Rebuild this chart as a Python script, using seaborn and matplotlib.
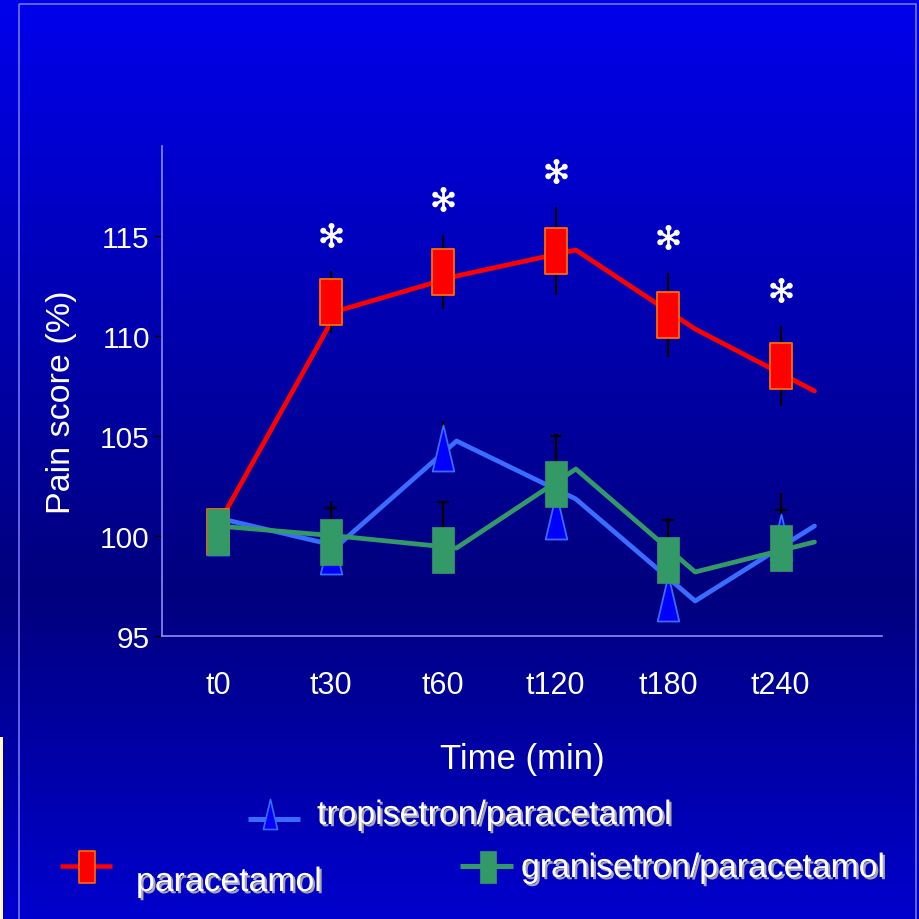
import numpy as np
import pandas as pd
import matplotlib
matplotlib.use("Agg")
import matplotlib.pyplot as plt
import matplotlib.patheffects as pe
from matplotlib.path import Path
from matplotlib.patches import Rectangle
from matplotlib.transforms import Affine2D
import seaborn as sns

# ---------------------------------------------------------------- data
times = ["t0", "t30", "t60", "t120", "t180", "t240"]
groups = ["tropisetron/paracetamol", "granisetron/paracetamol", "paracetamol"]

# group means (pain score, % of baseline) and SD
paracetamol_mean = [100.2, 111.7, 113.2, 114.25, 111.05, 108.5]
paracetamol_sd = [1.0, 1.55, 1.85, 2.2, 2.1, 2.0]
tropisetron_mean = [100.2, 99.25, 104.4, 101.0, 96.9, 99.95]
tropisetron_sd = [1.0, 2.5, 1.35, 4.1, 2.0, 2.2]
granisetron_mean = [100.2, 99.7, 99.3, 102.6, 98.8, 99.4]
granisetron_sd = [1.0, 1.7, 2.4, 2.4, 2.0, 1.9]

# connecting trend lines (drawn on their own layer)
paracetamol_trend = [100.55, 111.25, 113.0, 114.3, 110.35, 107.25]
tropisetron_trend = [100.9, 99.5, 104.75, 101.85, 96.75, 100.5]
granisetron_trend = [100.5, 100.0, 99.4, 103.35, 98.2, 99.7]

# time points marked as significant vs. the combination groups
significant = [False, True, True, True, True, True]

y_ticks = [95, 100, 105, 110, 115]

# ---------------------------------------------------------------- style
RED, RED_EDGE = "#ff0000", "#ff6a00"
BLUE_LINE, BLUE_FILL = "#3a6cff", "#0000ff"
GREEN = "#339966"
SPINE = "#8c8cf0"

sns.set_theme(style="white")
plt.rcParams["font.family"] = ["Liberation Sans", "DejaVu Sans"]

W, H = 919, 920
PX = 72 / 100  # points per pixel at dpi 100
fig = plt.figure(figsize=(W / 100, H / 100), dpi=100)
fig.patch.set_facecolor("#00008a")

# slide background: vertical blue gradient, darkest just below the middle
bg = fig.add_axes([0, 0, 1, 1], zorder=-10)
rows = np.arange(H)
blue = np.interp(rows, [0, 590, H], [236, 126, 206]) / 255.0
img = np.zeros((H, 1, 3))
img[:, 0, 2] = blue
bg.imshow(img, aspect="auto", extent=[0, W, H, 0], interpolation="bilinear")
bg.set_xlim(0, W)
bg.set_ylim(H, 0)
bg.axis("off")
bg.add_patch(Rectangle((19, 5), 897, 940, fill=False, ec="#7474f4", lw=1.2))
bg.add_patch(Rectangle((0, 738), 3, 200, fc="#fff8cc", ec="none"))

rect = [162 / W, (H - 637) / H, 720 / W, 490 / H]
line_ax = fig.add_axes(rect, zorder=1)
ax = fig.add_axes(rect, zorder=2)
for a in (line_ax, ax):
    a.set_facecolor("none")
    a.set_ylim(95, 119.5)

pos = np.arange(len(times))

# ---------------------------------------------------------------- trend lines
trend = pd.DataFrame({
    "pos": np.tile(pos, 3),
    "score": tropisetron_trend + granisetron_trend + paracetamol_trend,
    "group": np.repeat(groups, len(times)),
})
sns.lineplot(data=trend, x="pos", y="score", hue="group", hue_order=groups,
             palette={groups[0]: BLUE_LINE, groups[1]: GREEN, groups[2]: RED},
             sort=False, estimator=None, legend=False, linewidth=3.4,
             ax=line_ax)
line_ax.set_xlim(-0.469, 5.566)
line_ax.axis("off")

# ---------------------------------------------------------------- error bars
zeros = np.zeros(len(times))
ax.errorbar(pos, paracetamol_mean, yerr=paracetamol_sd, fmt="none",
            ecolor="black", elinewidth=1.6, capsize=0, zorder=2)
ax.errorbar(pos, tropisetron_mean, yerr=[zeros, tropisetron_sd], fmt="none",
            ecolor="black", elinewidth=1.6, capsize=0, zorder=2)
ax.errorbar(pos, granisetron_mean, yerr=[zeros, granisetron_sd], fmt="none",
            ecolor="black", elinewidth=1.6, capsize=4.5, capthick=1.6, zorder=2)

# ---------------------------------------------------------------- markers
box = Path([(-0.25, -0.5), (0.25, -0.5), (0.25, 0.5), (-0.25, 0.5), (-0.25, -0.5)],
           closed=True)
tri = Path([(-0.235, -0.5), (0.235, -0.5), (0.0, 0.5), (-0.235, -0.5)], closed=True)


def asterisk_path(arm=0.38, bulb=0.12, half_w=0.055):
    """Six-armed asterisk with rounded tips."""
    parts = []
    bar = Path([(-half_w, -arm), (half_w, -arm), (half_w, arm), (-half_w, arm),
                (-half_w, -arm)], closed=True)
    for ang in (0, 60, 120):
        parts.append(bar.transformed(Affine2D().rotate_deg(ang)))
    for k in range(6):
        a = np.deg2rad(90 + 60 * k)
        parts.append(Path.circle((arm * np.cos(a), arm * np.sin(a)), bulb))
    return Path.make_compound_path(*parts)


star = asterisk_path()
size = (46 * PX) ** 2

sns.scatterplot(x=pos, y=paracetamol_mean, marker=box, s=size, color=RED,
                edgecolor=RED_EDGE, linewidth=1.3, ax=ax, zorder=3)
sns.scatterplot(x=pos, y=tropisetron_mean, marker=tri, s=size, color=BLUE_FILL,
                edgecolor=BLUE_LINE, linewidth=1.3, ax=ax, zorder=4)
sns.scatterplot(x=pos, y=granisetron_mean, marker=box, s=size, color=GREEN,
                edgecolor=GREEN, linewidth=0.5, ax=ax, zorder=5)

# significance asterisks above the paracetamol error bars
sig = np.array(significant)
star_y = (np.array(paracetamol_mean) + np.array(paracetamol_sd))[sig] + 1.8
sns.scatterplot(x=pos[sig], y=star_y, marker=star, s=(25 * PX) ** 2,
                color="white", edgecolor="white", linewidth=0, ax=ax, zorder=6)

# ---------------------------------------------------------------- axes
ax.set_xlim(-0.498, 5.902)
ax.set_yticks(y_ticks)
ax.set_xticks(pos, times)
for s in ("top", "right"):
    ax.spines[s].set_visible(False)
for s in ("left", "bottom"):
    ax.spines[s].set_color(SPINE)
    ax.spines[s].set_linewidth(1.2)
ax.tick_params(axis="y", left=True, direction="out", length=5.8, width=1.0,
               color="black", labelcolor="white", labelsize=21.5, pad=3)
ax.tick_params(axis="x", bottom=True, length=0, labelcolor="white",
               labelsize=22, pad=24.5)
ax.set_xlabel("Time (min)", color="white", fontsize=25)
ax.xaxis.set_label_coords(0.5, -0.216)
ax.set_ylabel("Pain score (%)", color="white", fontsize=24.5)
ax.yaxis.set_label_coords(-0.118, 0.48)

# ---------------------------------------------------------------- legend keys
shadow = [pe.withSimplePatchShadow(offset=(1.6, -1.6), shadow_rgbFace="#a4a4b4",
                                   alpha=1.0)]
leg_font = dict(fontsize=24.3, color="white", va="baseline", ha="left",
                path_effects=shadow)

bg.plot([248, 300], [820, 820], color=BLUE_LINE, lw=5 * PX, solid_capstyle="butt")
bg.plot([270], [815], marker=tri, ms=30 * PX, mfc=BLUE_FILL, mec=BLUE_LINE, mew=1.2)
bg.text(317, 825, groups[0], **leg_font)

bg.plot([60, 112], [867, 867], color=RED, lw=4.5 * PX, solid_capstyle="butt")
bg.plot([87], [868], marker=box, ms=32 * PX, mfc=RED, mec=RED_EDGE, mew=1.2)
bg.text(136, 892, groups[2], **leg_font)

bg.plot([460, 513], [867, 867], color=GREEN, lw=5 * PX, solid_capstyle="butt")
bg.plot([487.5], [868], marker=box, ms=32 * PX, mfc=GREEN, mec=GREEN, mew=0.5)
bg.text(521, 878, groups[1], **leg_font)

fig.savefig("out.png", dpi=100, facecolor=fig.get_facecolor())
